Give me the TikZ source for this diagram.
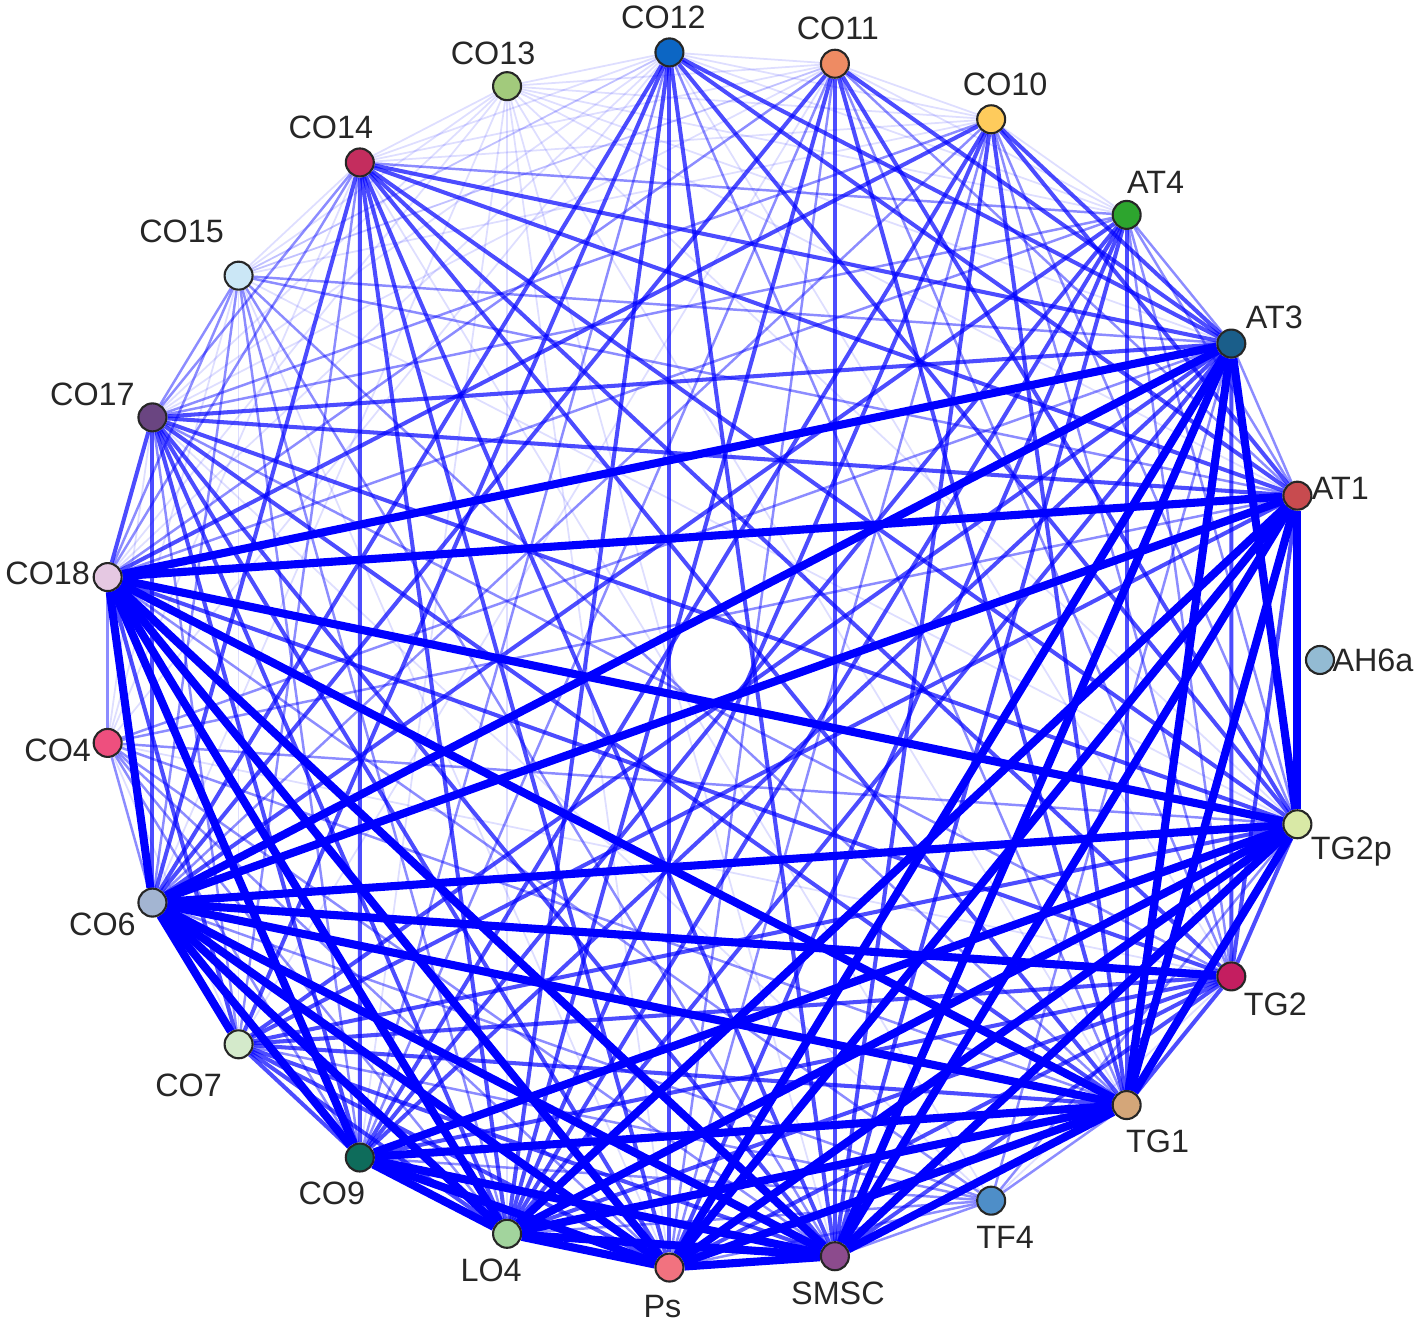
\documentclass[tikz,border=0pt]{standalone}
\usepackage{fontspec}
\setmainfont{Liberation Sans}
\usetikzlibrary{backgrounds}
\definecolor{cAH6a}{HTML}{93BBD3}
\definecolor{cAT1}{HTML}{C84B4F}
\definecolor{cAT3}{HTML}{1A5E8A}
\definecolor{cAT4}{HTML}{2DA52E}
\definecolor{cCO10}{HTML}{FECB5C}
\definecolor{cCO11}{HTML}{EE8B63}
\definecolor{cCO12}{HTML}{0C66C4}
\definecolor{cCO13}{HTML}{A2CA7C}
\definecolor{cCO14}{HTML}{C42D5E}
\definecolor{cCO15}{HTML}{CBE7F6}
\definecolor{cCO17}{HTML}{6A4581}
\definecolor{cCO18}{HTML}{E5C8E2}
\definecolor{cCO4}{HTML}{EE4F7E}
\definecolor{cCO6}{HTML}{A3B5D2}
\definecolor{cCO7}{HTML}{D4EACB}
\definecolor{cCO9}{HTML}{0E6C5B}
\definecolor{cLO4}{HTML}{A2D49D}
\definecolor{cPs}{HTML}{F2727F}
\definecolor{cSMSC}{HTML}{8C4B8D}
\definecolor{cTF4}{HTML}{4E8EC8}
\definecolor{cTG1}{HTML}{D4A679}
\definecolor{cTG2}{HTML}{C41E60}
\definecolor{cTG2p}{HTML}{D9E9A6}

\begin{document}
\begin{tikzpicture}[
	vertex/.style={circle, draw=black!85, line width=0.6pt, inner sep=0pt, minimum size=2.8mm},
	wThick/.style={blue, line width=2.3pt},
	wMid/.style={blue, line width=1.15pt, opacity=0.7},
	wThin/.style={blue, line width=0.7pt, opacity=0.45},
	wFaint/.style={blue, line width=0.5pt, opacity=0.13},
	every label/.style={inner sep=0pt, text=black!85, font=\fontsize{9.2}{11}\selectfont}]
	\useasboundingbox (-7.11,-6.63) rectangle (7.06,6.60);
		\foreach \k/\id/\dx/\dy in {
			0/AH6a/53/0, 1/AT1/43/7, 2/AT3/43/26, 3/AT4/29/33, 4/CO10/14/35, 5/CO11/3/35,
			6/CO12/-6/35, 7/CO13/-14/33, 8/CO14/-29/35, 9/CO15/-57/44, 10/CO17/-60/23,
			11/CO18/-60/4, 12/CO4/-50/-7, 13/CO6/-50/-22, 14/CO7/-50/-41, 15/CO9/-28/-36,
			16/LO4/-16/-37, 17/Ps/-7/-39, 18/SMSC/3/-37, 19/TF4/14/-37, 20/TG1/31/-36,
			21/TG2/44/-28, 22/TG2p/54/-27}{
		 	\node[vertex, fill=c\id, label={[xshift=\dx*0.01cm, yshift=\dy*0.01cm]center:\id}] (\id) at ({\k*360/23}:6.09) {};
		 }
		\begin{scope}[on background layer]
		 \foreach \a/\bs in {
			CO13/{CO14,CO15,CO17,CO18,CO6,CO9,LO4,Ps,SMSC,TG1,TG2p,AT1,AT3,AT4,CO10,CO11,CO12},
			CO12/{CO14,CO15,CO17,CO18,CO11,CO10,AT4,TG2},
			CO11/{CO14,CO15,CO17,CO10,AT4,CO7},
			CO15/{CO14,CO12,CO11,CO4,TG2p,Ps,CO7},
			CO4/{CO17,CO14,CO7,CO12,TG2},
			CO10/{CO14,AT4,CO15},
			TF4/{TG2,CO17,CO14}}
		 {\foreach \b in \bs
		 {\draw (\a) edge[wFaint] (\b);}}
		 \foreach \a/\bs in {
			CO15/{AT3,AT1,CO6,CO9,LO4,SMSC,TG1,CO17,CO18},
			CO4/{AT3,AT1,TG2p,TG1,SMSC,Ps,CO6,CO18,CO9,LO4},
			TF4/{CO9,LO4,Ps,SMSC,CO6,CO7,TG1,TG2p,CO18,AT3},
			AT4/{AT3,AT1,TG2p,TG2,CO18,CO17,CO14},
			AT3/{AT1},
			CO12/{TG1,CO9},
			CO11/{CO9,Ps,AT1,TG2,CO18},
			CO10/{CO6,Ps,TG2p,CO17,TG2},
			CO14/{CO18,CO17,CO7},
			CO17/{TG2,CO7}}
		 {\foreach \b in \bs
		 {\draw (\a) edge[wThin] (\b);}}
		 \foreach \a/\bs in {
			CO18/{TG2,CO7,CO17},
			CO14/{AT3,AT1,TG2p,TG2,TG1,SMSC,Ps,LO4,CO9,CO6},
			CO17/{AT3,AT1,TG2p,TG1,SMSC,Ps,LO4,CO9,CO6},
			CO12/{CO6,CO7,LO4,Ps,SMSC,AT3,AT1,TG2p},
			CO11/{CO6,SMSC,LO4,TG1,TG2p,AT3},
			CO10/{CO18,CO9,LO4,SMSC,TG1,AT1,AT3},
			AT4/{TG1,Ps,LO4,CO9,SMSC,CO6},
			CO7/{TG2p,TG2,TG1,SMSC,Ps,LO4,CO9,AT3,AT1},
			TG2/{CO9,LO4,Ps,SMSC,TG1,TG2p,AT3,AT1},
			AT3/{CO9,LO4}}
		 {\foreach \b in \bs
		 {\draw (\a) edge[wMid] (\b);}}
		 \foreach \a/\bs in {
			CO18/{AT3,AT1,TG2p,TG1,SMSC,Ps,LO4,CO9,CO6},
			CO6/{AT3,AT1,TG2p,TG2,TG1,SMSC,Ps,LO4,CO9,CO7},
			AT3/{TG2p,TG1,Ps,SMSC},
			AT1/{TG2p,TG1,Ps,SMSC,LO4},
			TG2p/{Ps,SMSC,LO4,CO9,TG1},
			TG1/{Ps,SMSC,LO4,CO9},
			Ps/{SMSC,LO4,CO9},
			SMSC/{LO4,CO9},
			LO4/{CO9}}
		 {\foreach \b in \bs
		 {\draw (\a) edge[wThick] (\b);}}
		\end{scope}
\end{tikzpicture}
\end{document}
